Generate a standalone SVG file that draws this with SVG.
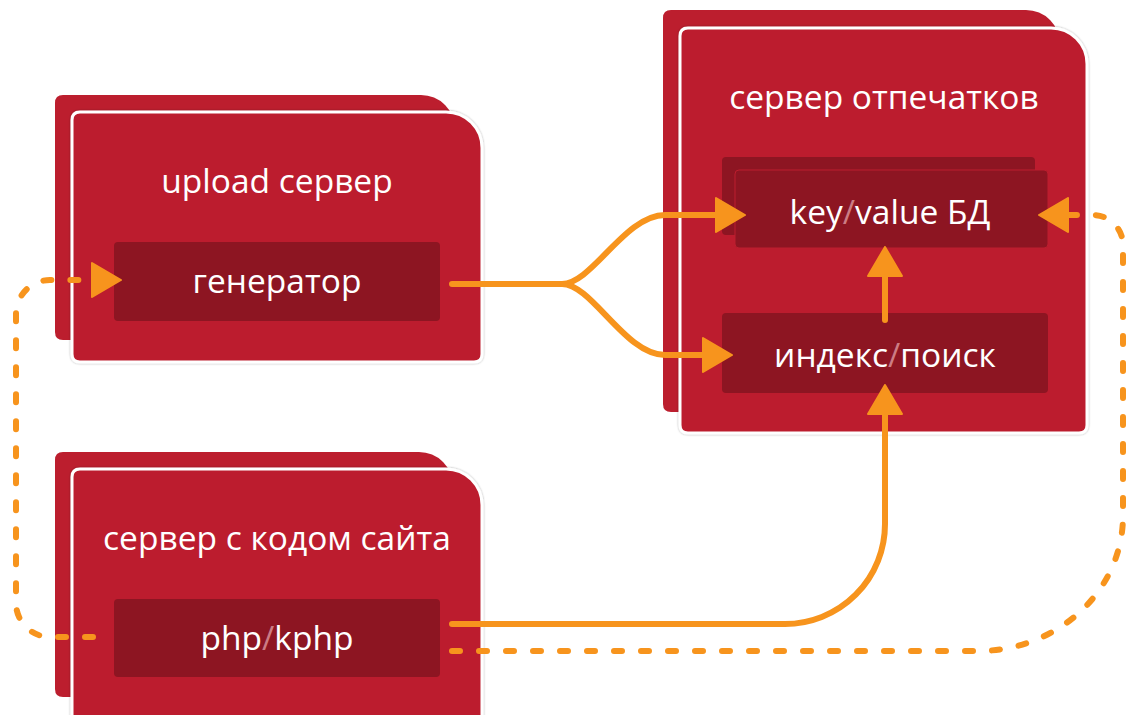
<svg xmlns="http://www.w3.org/2000/svg" width="1128" height="715" viewBox="0 0 1128 715">
<style>
.back{fill:#BC1E2E}
.front{fill:#BC1E2E;stroke:#FFFFFF;stroke-width:3;filter:url(#sh)}
.box{fill:#8D1522}
.t{font-family:"Open Sans","DejaVu Sans",sans-serif;font-size:33.5px;fill:#FFFFFF;text-anchor:middle}
.sl{fill:#CC7C84}
.c{fill:none;stroke:#F7941D;stroke-width:6;stroke-linecap:round;stroke-linejoin:round}
.d{stroke-dasharray:8 19}
</style>
<defs>
<filter id="sh" x="-5%" y="-5%" width="110%" height="110%">
<feDropShadow dx="0" dy="0" stdDeviation="1" flood-color="#000" flood-opacity="0.35"/>
</filter>
<marker id="ah" markerUnits="userSpaceOnUse" viewBox="0 0 31 36" markerWidth="31" markerHeight="36" refX="1" refY="18" orient="auto">
<path d="M1,1 L30,18 L1,35 Z" fill="#F7941D" stroke="#F7941D" stroke-width="2" stroke-linejoin="round"/>
</marker>
</defs>

<g id="upload-server">
<path class="back" d="M55,103 Q55,95 63,95 H421 A34,34 0 0 1 455,129 V332 Q455,340 447,340 H63 Q55,340 55,332 Z"/>
<path class="front" d="M72,120 Q72,112 80,112 H446 A36,36 0 0 1 482,148 V354 Q482,362 474,362 H80 Q72,362 72,354 Z"/>
<text class="t" x="277" y="193">upload сервер</text>
<g id="generator">
<rect class="box" x="114" y="242" width="326" height="79" rx="4"/>
<text class="t" x="277" y="293">генератор</text>
</g>
</g>

<g id="fingerprint-server">
<path class="back" d="M663,18 Q663,10 671,10 H1026 A34,34 0 0 1 1060,44 V404 Q1060,412 1052,412 H671 Q663,412 663,404 Z"/>
<path class="front" d="M680,36 Q680,28 688,28 H1051 A36,36 0 0 1 1087,64 V425 Q1087,433 1079,433 H688 Q680,433 680,425 Z"/>
<text class="t" x="884" y="109">сервер отпечатков</text>
<g id="kv-db">
<rect class="box" x="722" y="157" width="313" height="78" rx="4"/>
<rect class="box" x="735" y="170" width="313" height="78" rx="4" stroke="#BC1E2E" stroke-width="1"/>
<text class="t" x="890" y="224">key<tspan class="sl">/</tspan>value БД</text>
</g>
<g id="index-search">
<rect class="box" x="722" y="313" width="326" height="80" rx="4"/>
<text class="t" x="885" y="367">индекс<tspan class="sl">/</tspan>поиск</text>
</g>
</g>

<g id="site-server">
<path class="back" d="M55,460 Q55,452 63,452 H419 A34,34 0 0 1 453,486 V689 Q453,697 445,697 H63 Q55,697 55,689 Z"/>
<path class="front" d="M72,477 Q72,469 80,469 H446 A36,36 0 0 1 482,505 V730 H72 Z"/>
<text class="t" x="277" y="550">сервер с кодом сайта</text>
<g id="php-kphp">
<rect class="box" x="114" y="599" width="326" height="78" rx="4"/>
<text class="t" x="277" y="650">php<tspan class="sl">/</tspan>kphp</text>
</g>
</g>

<g id="connectors">
<path class="c" d="M452,284 H562 C592,284 625,215 665,215 H716" marker-end="url(#ah)"/>
<path class="c" d="M562,284 C592,284 625,355 665,355 H703" marker-end="url(#ah)"/>
<path class="c" d="M885,320 V276" marker-end="url(#ah)"/>
<path class="c" d="M452,624 H785 A100,100 0 0 0 885,524 V414" marker-end="url(#ah)"/>
<path class="c d" d="M452,651 H979 A145,135 0 0 0 1123,516 V245 A30,30 0 0 0 1093,215 H1068" marker-end="url(#ah)"/>
<path class="c d" d="M93,637 H50 A34,34 0 0 1 16,603 V314 A34,34 0 0 1 50,280 H92" marker-end="url(#ah)"/>
</g>
</svg>
